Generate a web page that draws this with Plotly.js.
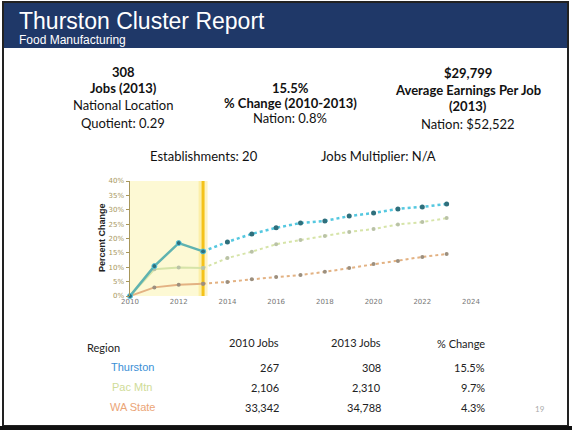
<!DOCTYPE html>
<html>
<head>
<meta charset="utf-8">
<script src="https://cdn.plot.ly/plotly-3.0.1.min.js"></script>
<style>html,body{margin:0;padding:0;background:#fff;}#chart{width:572px;height:430px;}</style>
</head>
<body>
<div id="chart"></div>
<script>
// ---- data ----
const histYears = [2010, 2011, 2012, 2013];
const histThurston = [0, 10.4, 18.4, 15.5];
const histPacMtn = [0, 9.3, 9.9, 9.7];
const histWA = [0, 3.0, 3.9, 4.3];

const projYears = [2013, 2014, 2015, 2016, 2017, 2018, 2019, 2020, 2021, 2022, 2023];
const projThurston = [15.5, 18.8, 21.6, 23.7, 25.4, 26.1, 27.8, 28.9, 30.3, 31.0, 32.0];
const projPacMtn = [9.7, 13.2, 15.4, 18.0, 19.5, 20.9, 22.3, 23.3, 24.9, 25.7, 27.1];
const projWA = [4.3, 4.9, 5.8, 6.6, 7.3, 8.4, 9.7, 11.1, 12.2, 13.6, 14.6];

const xTickVals = [2010, 2012, 2014, 2016, 2018, 2020, 2022, 2024];
const yTickVals = [0, 5, 10, 15, 20, 25, 30, 35, 40];
const yTickText = ['0%', '5%', '10%', '15%', '20%', '25%', '30%', '35%', '40%'];

const tableRegions = ['Thurston', 'Pac Mtn', 'WA State'];
const tableJobs2010 = ['267', '2,106', '33,342'];
const tableJobs2013 = ['308', '2,310', '34,788'];
const tablePctChange = ['15.5%', '9.7%', '4.3%'];
const tableHeaders = ['Region', '2010 Jobs', '2013 Jobs', '% Change'];

const kpiLeft = ['<b>308</b>', '<b>Jobs (2013)</b>', 'National Location', 'Quotient: 0.29'];
const kpiMid = ['<b>15.5%</b>', '<b>% Change (2010-2013)</b>', 'Nation: 0.8%'];
const kpiRight = ['<b>$29,799</b>', '<b>Average Earnings Per Job</b>', '<b>(2013)</b>', 'Nation: $52,522'];
const kpiBottom = ['Establishments: 20', 'Jobs Multiplier: N/A'];

// ---- helpers ----
const W = 572, H = 430;
const X = px => px / W;
const Y = py => 1 - py / H;
const FONT = 'Lato, "Open Sans", sans-serif';

const cThur = '#55c8e0', mThur = '#2f6f7c';
const cPac = '#d6e4a8', mPac = '#b9c2a6';
const cWA = '#e3b283', mWA = '#9c8f7e';

const traces = [
  {x: projYears, y: projWA, mode: 'lines+markers', line: {color: cWA, width: 2, dash: 'dot'}, marker: {color: mWA, size: 4}, cliponaxis: false},
  {x: projPacMtn.length ? projYears : [], y: projPacMtn, mode: 'lines+markers', line: {color: cPac, width: 2, dash: 'dot'}, marker: {color: mPac, size: 4}, cliponaxis: false},
  {x: projYears, y: projThurston, mode: 'lines+markers', line: {color: cThur, width: 2.5, dash: 'dot'}, marker: {color: mThur, size: 5}, cliponaxis: false},
  {x: histYears, y: histWA, mode: 'lines+markers', line: {color: cWA, width: 2}, marker: {color: mWA, size: 4}, cliponaxis: false},
  {x: histYears, y: histPacMtn, mode: 'lines+markers', line: {color: cPac, width: 2}, marker: {color: mPac, size: 4}, cliponaxis: false},
  {x: histYears, y: histThurston, mode: 'lines+markers', line: {color: '#5fb3b0', width: 2.5}, marker: {color: mThur, size: 5, line: {color: cThur, width: 1}}, cliponaxis: false}
];

const annotations = [];
function txt(text, x, y, opts) {
  annotations.push(Object.assign({
    text: text, xref: 'paper', yref: 'paper', x: X(x), y: Y(y),
    showarrow: false, xanchor: 'center', yanchor: 'middle',
    font: {family: FONT, size: 13, color: '#111'}
  }, opts || {}));
}

// header
txt('Thurston Cluster Report', 17, 21, {xanchor: 'left', font: {family: 'Liberation Sans, Arial, sans-serif', size: 23, color: '#ffffff'}});
txt('Food Manufacturing', 17, 40, {xanchor: 'left', font: {family: 'Liberation Sans, Arial, sans-serif', size: 12, color: '#ffffff'}});

// KPIs
const leftY = [72, 88, 105, 123];
kpiLeft.forEach((t, i) => txt(t, 123, leftY[i]));
const midY = [88, 103, 118];
kpiMid.forEach((t, i) => txt(t, 290, midY[i]));
const rightY = [73, 90, 106, 124];
kpiRight.forEach((t, i) => txt(t, 468, rightY[i]));
txt(kpiBottom[0], 204, 156);
txt(kpiBottom[1], 378, 156);

// axis title
txt('<b>Percent Change</b>', 102, 238, {textangle: -90, font: {family: 'Liberation Sans, Arial, sans-serif', size: 9, color: '#222'}});

// table
const colRight = [281, 383, 487];
txt(tableHeaders[0], 85, 347, {xanchor: 'left', font: {family: FONT, size: 11, color: '#222'}});
txt(tableHeaders[1], colRight[0], 342, {xanchor: 'right', font: {family: FONT, size: 11, color: '#222'}});
txt(tableHeaders[2], colRight[1], 342, {xanchor: 'right', font: {family: FONT, size: 11, color: '#222'}});
txt(tableHeaders[3], colRight[2], 343, {xanchor: 'right', font: {family: FONT, size: 11, color: '#222'}});
const rowY = [367, 387, 407];
const regionColors = ['#3b8fd6', '#cfdc98', '#eba577'];
tableRegions.forEach((r, i) => {
  txt(r, 132, rowY[i], {font: {family: 'Liberation Sans, Arial, sans-serif', size: 11, color: regionColors[i]}});
  txt(tableJobs2010[i], colRight[0], rowY[i], {xanchor: 'right', font: {family: FONT, size: 11, color: '#222'}});
  txt(tableJobs2013[i], colRight[1], rowY[i], {xanchor: 'right', font: {family: FONT, size: 11, color: '#222'}});
  txt(tablePctChange[i], colRight[2], rowY[i], {xanchor: 'right', font: {family: FONT, size: 11, color: '#222'}});
});
txt('19', 540, 409, {font: {family: FONT, size: 8, color: '#aaa'}});

const shapes = [
  // header band
  {type: 'rect', xref: 'paper', yref: 'paper', x0: X(3), x1: X(569), y0: Y(48), y1: Y(2), fillcolor: '#1f3868', line: {width: 0}, layer: 'below'},
  // slide border
  {type: 'rect', xref: 'paper', yref: 'paper', x0: X(3), x1: X(568), y0: Y(426), y1: Y(2), line: {color: '#222', width: 2}, layer: 'above'},
  {type: 'rect', xref: 'paper', yref: 'paper', x0: 0, x1: 1, y0: 0, y1: Y(426), fillcolor: '#111', line: {width: 0}},
  // shaded history
  {type: 'rect', xref: 'x', yref: 'y', x0: histYears[0], x1: histYears[histYears.length - 1], y0: 0, y1: 40, fillcolor: '#fdf9d4', line: {width: 0}, layer: 'below'},
  // glow + current-year line
  {type: 'line', xref: 'x', yref: 'y', x0: histYears[histYears.length - 1], x1: histYears[histYears.length - 1], y0: 0, y1: 40, line: {color: 'rgba(250,220,90,0.35)', width: 9}, layer: 'below'},
  {type: 'line', xref: 'x', yref: 'y', x0: histYears[histYears.length - 1], x1: histYears[histYears.length - 1], y0: 0, y1: 40, line: {color: '#f4c21a', width: 3}, layer: 'below'}
];

const layout = {
  width: W, height: H,
  margin: {l: 0, r: 0, t: 0, b: 0},
  paper_bgcolor: '#ffffff', plot_bgcolor: 'rgba(0,0,0,0)',
  showlegend: false,
  xaxis: {
    domain: [X(130), X(471)], range: [2010, 2024],
    tickvals: xTickVals, ticktext: xTickVals.map(String),
    showgrid: false, zeroline: false, showline: false, ticks: '',
    tickfont: {family: 'DejaVu Sans, sans-serif', size: 7, color: '#777'}
  },
  yaxis: {
    domain: [Y(296), Y(181)], range: [0, 40],
    tickvals: yTickVals, ticktext: yTickText,
    showgrid: false, zeroline: false, showline: true, linecolor: '#a8975c', linewidth: 1.5,
    ticks: 'outside', ticklen: 3, tickcolor: '#a8975c',
    tickfont: {family: 'DejaVu Sans, sans-serif', size: 7, color: '#a8975c'}
  },
  shapes: shapes,
  annotations: annotations
};

Plotly.newPlot('chart', traces, layout, {staticPlot: true, displayModeBar: false});
</script>
</body>
</html>
